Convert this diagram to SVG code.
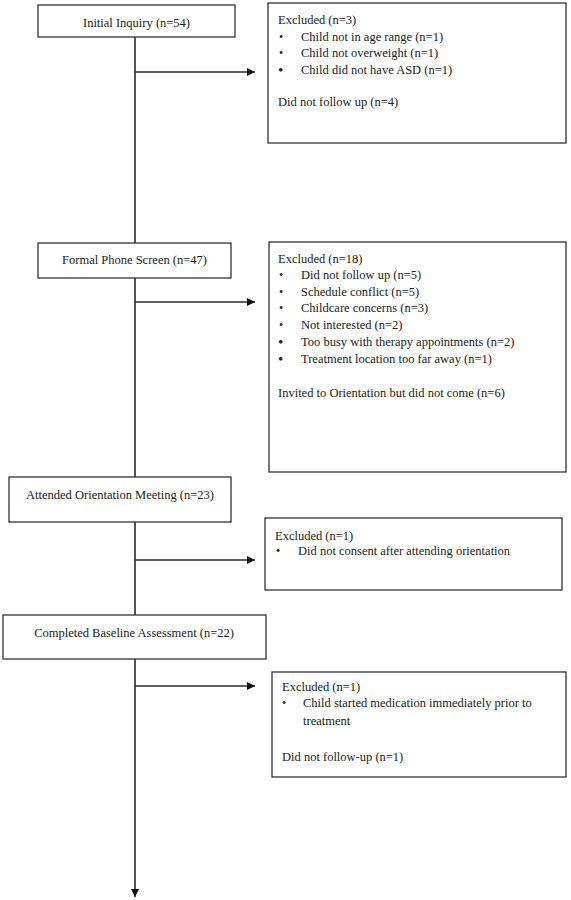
<svg xmlns="http://www.w3.org/2000/svg" width="571" height="900" viewBox="0 0 571 900">
<style>
.box{fill:#fff;stroke:#333;stroke-width:1.3}
.t{font-family:"Liberation Serif","Times New Roman",serif;font-size:12.5px;fill:#222}
.c{text-anchor:middle}
.b{font-family:"Liberation Serif","Times New Roman",serif;font-size:12px;fill:#222}
.bb{font-family:"Liberation Serif","Times New Roman",serif;font-size:15px;fill:#222}
.ln{stroke:#2a2a2a;stroke-width:1.6;fill:none}
</style>
<defs>
<marker id="ah" viewBox="0 0 10 10" refX="10" refY="5" markerWidth="9" markerHeight="8" markerUnits="userSpaceOnUse" orient="auto">
<path d="M0,0 L10,5 L0,10 z" fill="#111"/>
</marker>
</defs>
<rect width="571" height="900" fill="#fff"/>
<g id="connectors">
<line class="ln" x1="135" y1="37" x2="135" y2="243"/>
<line class="ln" x1="135" y1="72" x2="255" y2="72" marker-end="url(#ah)"/>
<line class="ln" x1="135" y1="278" x2="135" y2="477"/>
<line class="ln" x1="135" y1="302" x2="255" y2="302" marker-end="url(#ah)"/>
<line class="ln" x1="135" y1="522" x2="135" y2="615"/>
<line class="ln" x1="135" y1="560" x2="255" y2="560" marker-end="url(#ah)"/>
<line class="ln" x1="135" y1="659" x2="135" y2="897" marker-end="url(#ah)"/>
<line class="ln" x1="135" y1="686" x2="255" y2="686" marker-end="url(#ah)"/>
</g>
<g id="initial-inquiry">
<rect class="box" x="38" y="5" width="197" height="32"/>
<text class="t c" x="136.5" y="27">Initial Inquiry (n=54)</text>
</g>
<g id="excluded-1">
<rect class="box" x="268" y="3" width="298" height="140"/>
<text class="t" x="278" y="24">Excluded (n=3)</text>
<text class="b" x="279" y="41">•</text><text class="t" x="301" y="41">Child not in age range (n=1)</text>
<text class="b" x="279" y="57">•</text><text class="t" x="301" y="57">Child not overweight (n=1)</text>
<text class="bb" x="278" y="75">•</text><text class="t" x="301" y="74">Child did not have ASD (n=1)</text>
<text class="t" x="278" y="106">Did not follow up (n=4)</text>
</g>
<g id="formal-phone-screen">
<rect class="box" x="38" y="243" width="193" height="35"/>
<text class="t c" x="134.5" y="264">Formal Phone Screen (n=47)</text>
</g>
<g id="excluded-2">
<rect class="box" x="269" y="242" width="297" height="230"/>
<text class="t" x="278" y="263">Excluded (n=18)</text>
<text class="b" x="279" y="279">•</text><text class="t" x="301" y="279">Did not follow up (n=5)</text>
<text class="b" x="279" y="296">•</text><text class="t" x="301" y="296">Schedule conflict (n=5)</text>
<text class="b" x="279" y="312">•</text><text class="t" x="301" y="312">Childcare concerns (n=3)</text>
<text class="b" x="279" y="329">•</text><text class="t" x="301" y="329">Not interested (n=2)</text>
<text class="bb" x="278" y="347">•</text><text class="t" x="301" y="346">Too busy with therapy appointments (n=2)</text>
<text class="bb" x="278" y="364">•</text><text class="t" x="301" y="363">Treatment location too far away (n=1)</text>
<text class="t" x="278" y="397">Invited to Orientation but did not come (n=6)</text>
</g>
<g id="attended-orientation">
<rect class="box" x="9" y="477" width="222" height="45"/>
<text class="t c" x="120" y="499">Attended Orientation Meeting (n=23)</text>
</g>
<g id="excluded-3">
<rect class="box" x="265" y="518" width="297" height="72"/>
<text class="t" x="275" y="540">Excluded (n=1)</text>
<text class="b" x="276" y="555">•</text><text class="t" x="298" y="555">Did not consent after attending orientation</text>
</g>
<g id="completed-baseline">
<rect class="box" x="3" y="615" width="263" height="44"/>
<text class="t c" x="134" y="637">Completed Baseline Assessment (n=22)</text>
</g>
<g id="excluded-4">
<rect class="box" x="272" y="672" width="294" height="105"/>
<text class="t" x="282" y="691">Excluded (n=1)</text>
<text class="b" x="282" y="707">•</text><text class="t" x="303" y="707">Child started medication immediately prior to</text>
<text class="t" x="303" y="725">treatment</text>
<text class="t" x="282" y="761">Did not follow-up (n=1)</text>
</g>
</svg>
